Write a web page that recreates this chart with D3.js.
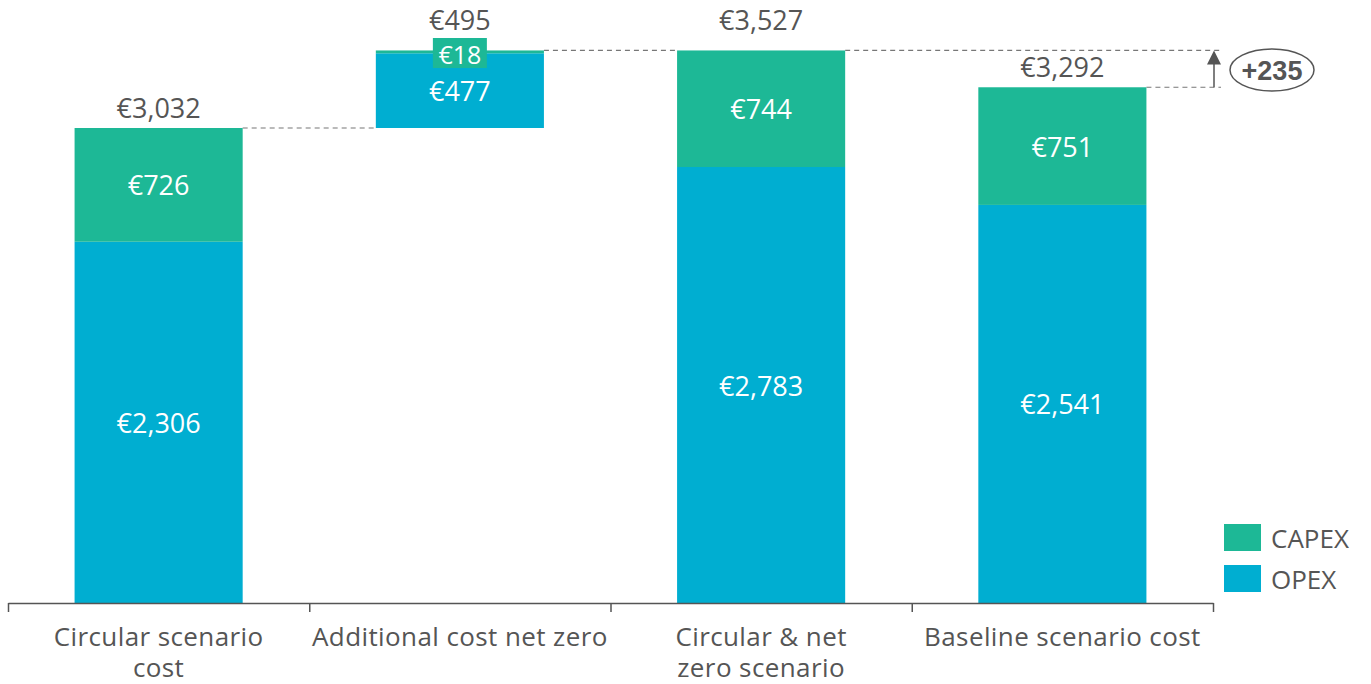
<!DOCTYPE html>
<meta charset="utf-8">
<title>Scenario cost</title>
<style>
body { margin: 0; background: white; }
svg { font-family: 'Open Sans', sans-serif; }
</style>
<body>
<script src="https://d3js.org/d3.v7.min.js"></script>
<script>
// data
const categories = ["Circular scenario cost", "Additional cost net zero", "Circular & net zero scenario", "Baseline scenario cost"];
const catLines = [["Circular scenario", "cost"], ["Additional cost net zero"], ["Circular & net", "zero scenario"], ["Baseline scenario cost"]];
const base  = [0, 3032, 0, 0];
const opex  = [2306, 477, 2783, 2541];
const capex = [726, 18, 744, 751];
const totals = [3032, 495, 3527, 3292];
const diffLabel = "+235";

const W = 1371, H = 684;
const capexColor = "#1db896", opexColor = "#00aed1", grey = "#555";

const svg = d3.select("body").append("svg")
  .attr("width", W).attr("height", H);

// scales
const x = d3.scaleBand().domain(categories).range([8, 1213]).padding(0);
const y = d3.scaleLinear().domain([0, 3032]).range([603, 128]);
const barW = x.bandwidth() * 0.558;
const cx = c => x(c) + x.bandwidth() / 2;
const fmt = v => "€" + d3.format(",")(v);
const valSize = "27px";

// dashed connectors
const dash = svg.append("g").attr("stroke", "#777").attr("stroke-width", 1.2)
  .attr("stroke-dasharray", "5,4");
function hline(v, x1, x2) {
  dash.append("line").attr("x1", x1).attr("x2", x2).attr("y1", y(v)).attr("y2", y(v));
}
hline(base[0] + opex[0] + capex[0], cx(categories[0]) + barW / 2, cx(categories[1]) - barW / 2);
hline(base[1] + opex[1] + capex[1], cx(categories[1]) + barW / 2, cx(categories[2]) - barW / 2);
hline(totals[2], cx(categories[2]) + barW / 2, 1221);
hline(totals[3], cx(categories[3]) + barW / 2, 1221);

// bars
categories.forEach((c, i) => {
  const x0 = cx(c) - barW / 2;
  svg.append("rect").attr("x", x0).attr("width", barW)
    .attr("y", y(base[i] + opex[i])).attr("height", y(base[i]) - y(base[i] + opex[i]))
    .attr("fill", opexColor);
  svg.append("rect").attr("x", x0).attr("width", barW)
    .attr("y", y(base[i] + opex[i] + capex[i])).attr("height", y(base[i] + opex[i]) - y(base[i] + opex[i] + capex[i]))
    .attr("fill", capexColor);

  // opex label
  svg.append("text").attr("x", cx(c)).attr("y", (y(base[i]) + y(base[i] + opex[i])) / 2)
    .attr("text-anchor", "middle").attr("dominant-baseline", "central")
    .attr("fill", "white").style("font-size", valSize).text(fmt(opex[i]));

  // capex label (small segment gets a boxed label)
  const capMid = (y(base[i] + opex[i]) + y(base[i] + opex[i] + capex[i])) / 2;
  if (capex[i] < 100) {
    svg.append("rect").attr("x", cx(c) - 27).attr("y", 38).attr("width", 54).attr("height", 30)
      .attr("fill", capexColor);
    svg.append("text").attr("x", cx(c)).attr("y", 54)
      .attr("text-anchor", "middle").attr("dominant-baseline", "central")
      .attr("fill", "white").style("font-size", "25px").text(fmt(capex[i]));
  } else {
    svg.append("text").attr("x", cx(c)).attr("y", capMid)
      .attr("text-anchor", "middle").attr("dominant-baseline", "central")
      .attr("fill", "white").style("font-size", valSize).text(fmt(capex[i]));
  }

  // total label
  const topY = y(base[i] + opex[i] + capex[i]);
  svg.append("text").attr("x", cx(c)).attr("y", topY < 60 ? 19 : topY - 21)
    .attr("text-anchor", "middle").attr("dominant-baseline", "central")
    .attr("fill", grey).style("font-size", valSize).text(fmt(totals[i]));
});

// x axis: ticks on band boundaries
const xb = d3.scaleLinear().domain([0, categories.length]).range([8, 1213]);
const axis = svg.append("g").attr("transform", "translate(0,603)")
  .call(d3.axisBottom(xb).tickValues(d3.range(categories.length + 1)).tickFormat("").tickSize(9).tickSizeOuter(0));
axis.selectAll("path, line").attr("stroke", grey).attr("stroke-width", 1.5);

catLines.forEach((lines, i) => {
  lines.forEach((t, j) => {
    svg.append("text").attr("x", cx(categories[i])).attr("y", 636 + j * 31)
      .attr("text-anchor", "middle").attr("dominant-baseline", "central")
      .attr("fill", grey).style("font-size", "26px").style("letter-spacing", "0.4px").text(t);
  });
});

// difference arrow
const ax = 1214;
svg.append("line").attr("x1", ax).attr("x2", ax).attr("y1", y(totals[3])).attr("y2", y(totals[2]) + 12)
  .attr("stroke", grey).attr("stroke-width", 1.5);
svg.append("path").attr("d", `M${ax - 7},${y(totals[2]) + 14} L${ax},${y(totals[2])} L${ax + 7},${y(totals[2]) + 14} Z`)
  .attr("fill", grey);
svg.append("ellipse").attr("cx", 1272).attr("cy", 70).attr("rx", 42).attr("ry", 21)
  .attr("fill", "white").attr("stroke", grey).attr("stroke-width", 1.5);
svg.append("text").attr("x", 1272).attr("y", 71).attr("text-anchor", "middle").attr("dominant-baseline", "central")
  .attr("fill", grey).style("font-family", "'Liberation Sans', Arial, sans-serif")
  .style("font-weight", "bold").style("font-size", "27px").text(diffLabel);

// legend
const legend = [["CAPEX", capexColor], ["OPEX", opexColor]];
legend.forEach((d, i) => {
  svg.append("rect").attr("x", 1224).attr("y", 524 + i * 41).attr("width", 37).attr("height", 27).attr("fill", d[1]);
  svg.append("text").attr("x", 1271).attr("y", 538 + i * 41).attr("dominant-baseline", "central")
    .attr("fill", grey).style("font-size", "26px").text(d[0]);
});
</script>
</body>
